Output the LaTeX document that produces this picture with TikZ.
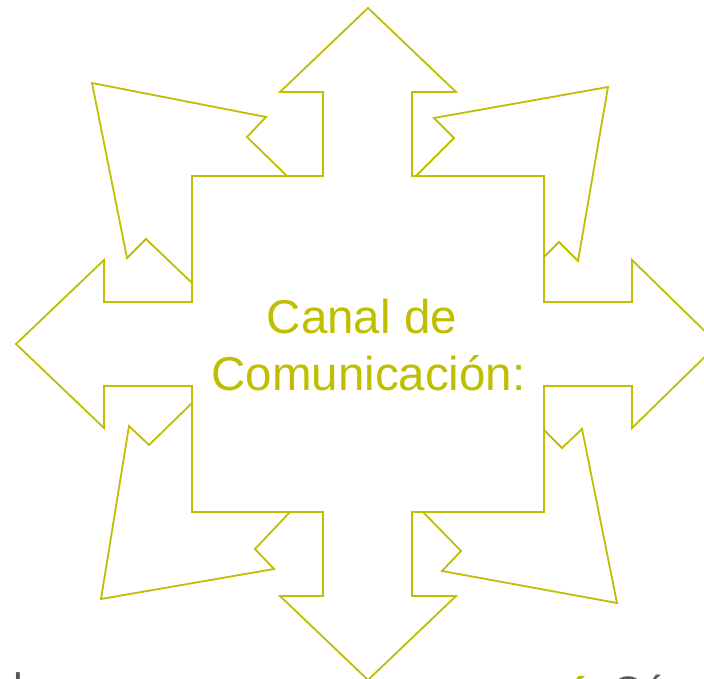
\documentclass[tikz,border=0pt]{standalone}
\usepackage{fontspec}
\setmainfont{Liberation Sans}
\usepackage{xcolor}
\usepackage{tikz}

\definecolor{olive}{RGB}{192,190,0}
\definecolor{darkgray}{RGB}{88,88,88}

\tikzset{
    outline/.style={draw=olive, line width=1.8pt, line join=miter, fill=white},
    title/.style={text=olive, align=center, font=\fontsize{47.5}{57}\selectfont, inner sep=0pt},
    cut/.style={text=darkgray, font=\fontsize{44}{57}\selectfont, inner sep=0pt, anchor=base west}
}

\begin{document}
\begin{tikzpicture}[x=1pt, y=-1pt]
    \useasboundingbox (0,0) rectangle (704,679);
    \clip (0,0) rectangle (704,679);

    % North-west arrow
    \draw[outline] (287,176) -- (247,137) -- (266,117) -- (92,83) -- (127,258)
        -- (146,239) -- (192,283) -- cycle;

    % North-east arrow
    \draw[outline] (416,176) -- (454,138) -- (434,118) -- (608,87) -- (578,261)
        -- (559,242) -- (544,257) -- cycle;

    % South-west arrow
    \draw[outline] (192,403) -- (149,445) -- (129,426) -- (101,599) -- (274,569)
        -- (255,549) -- (290,512) -- cycle;

    % South-east arrow
    \draw[outline] (544,430) -- (562,448) -- (582,429) -- (617,603) -- (442,571)
        -- (461,551) -- (423,512) -- cycle;

    % Central cross with the four straight arrows
    \draw[outline] (368,8) -- (456,92) -- (412,92) -- (412,176) -- (544,176)
        -- (544,302) -- (632,302) -- (632,260) -- (718,344) -- (632,428)
        -- (632,386) -- (544,386) -- (544,512) -- (412,512) -- (412,596)
        -- (456,596) -- (368,680) -- (280,596) -- (323,596) -- (323,512)
        -- (192,512) -- (192,386) -- (104,386) -- (104,428) -- (16,344)
        -- (104,260) -- (104,302) -- (192,302) -- (192,176) -- (323,176)
        -- (323,92) -- (280,92) -- cycle;

    % Label
    \node[title] (canal) at (368.5,345) {Canal de\hphantom{~}\\Comunicación:};

    % Text cut by the lower edge
    \node[cut] (left) at (13,704) {l};
    \node[cut, text=olive, font=\fontsize{60}{60}\selectfont] (accent) at (570,720) {´};
    \node[cut] (right) at (611,707) {Có};

\end{tikzpicture}
\end{document}
